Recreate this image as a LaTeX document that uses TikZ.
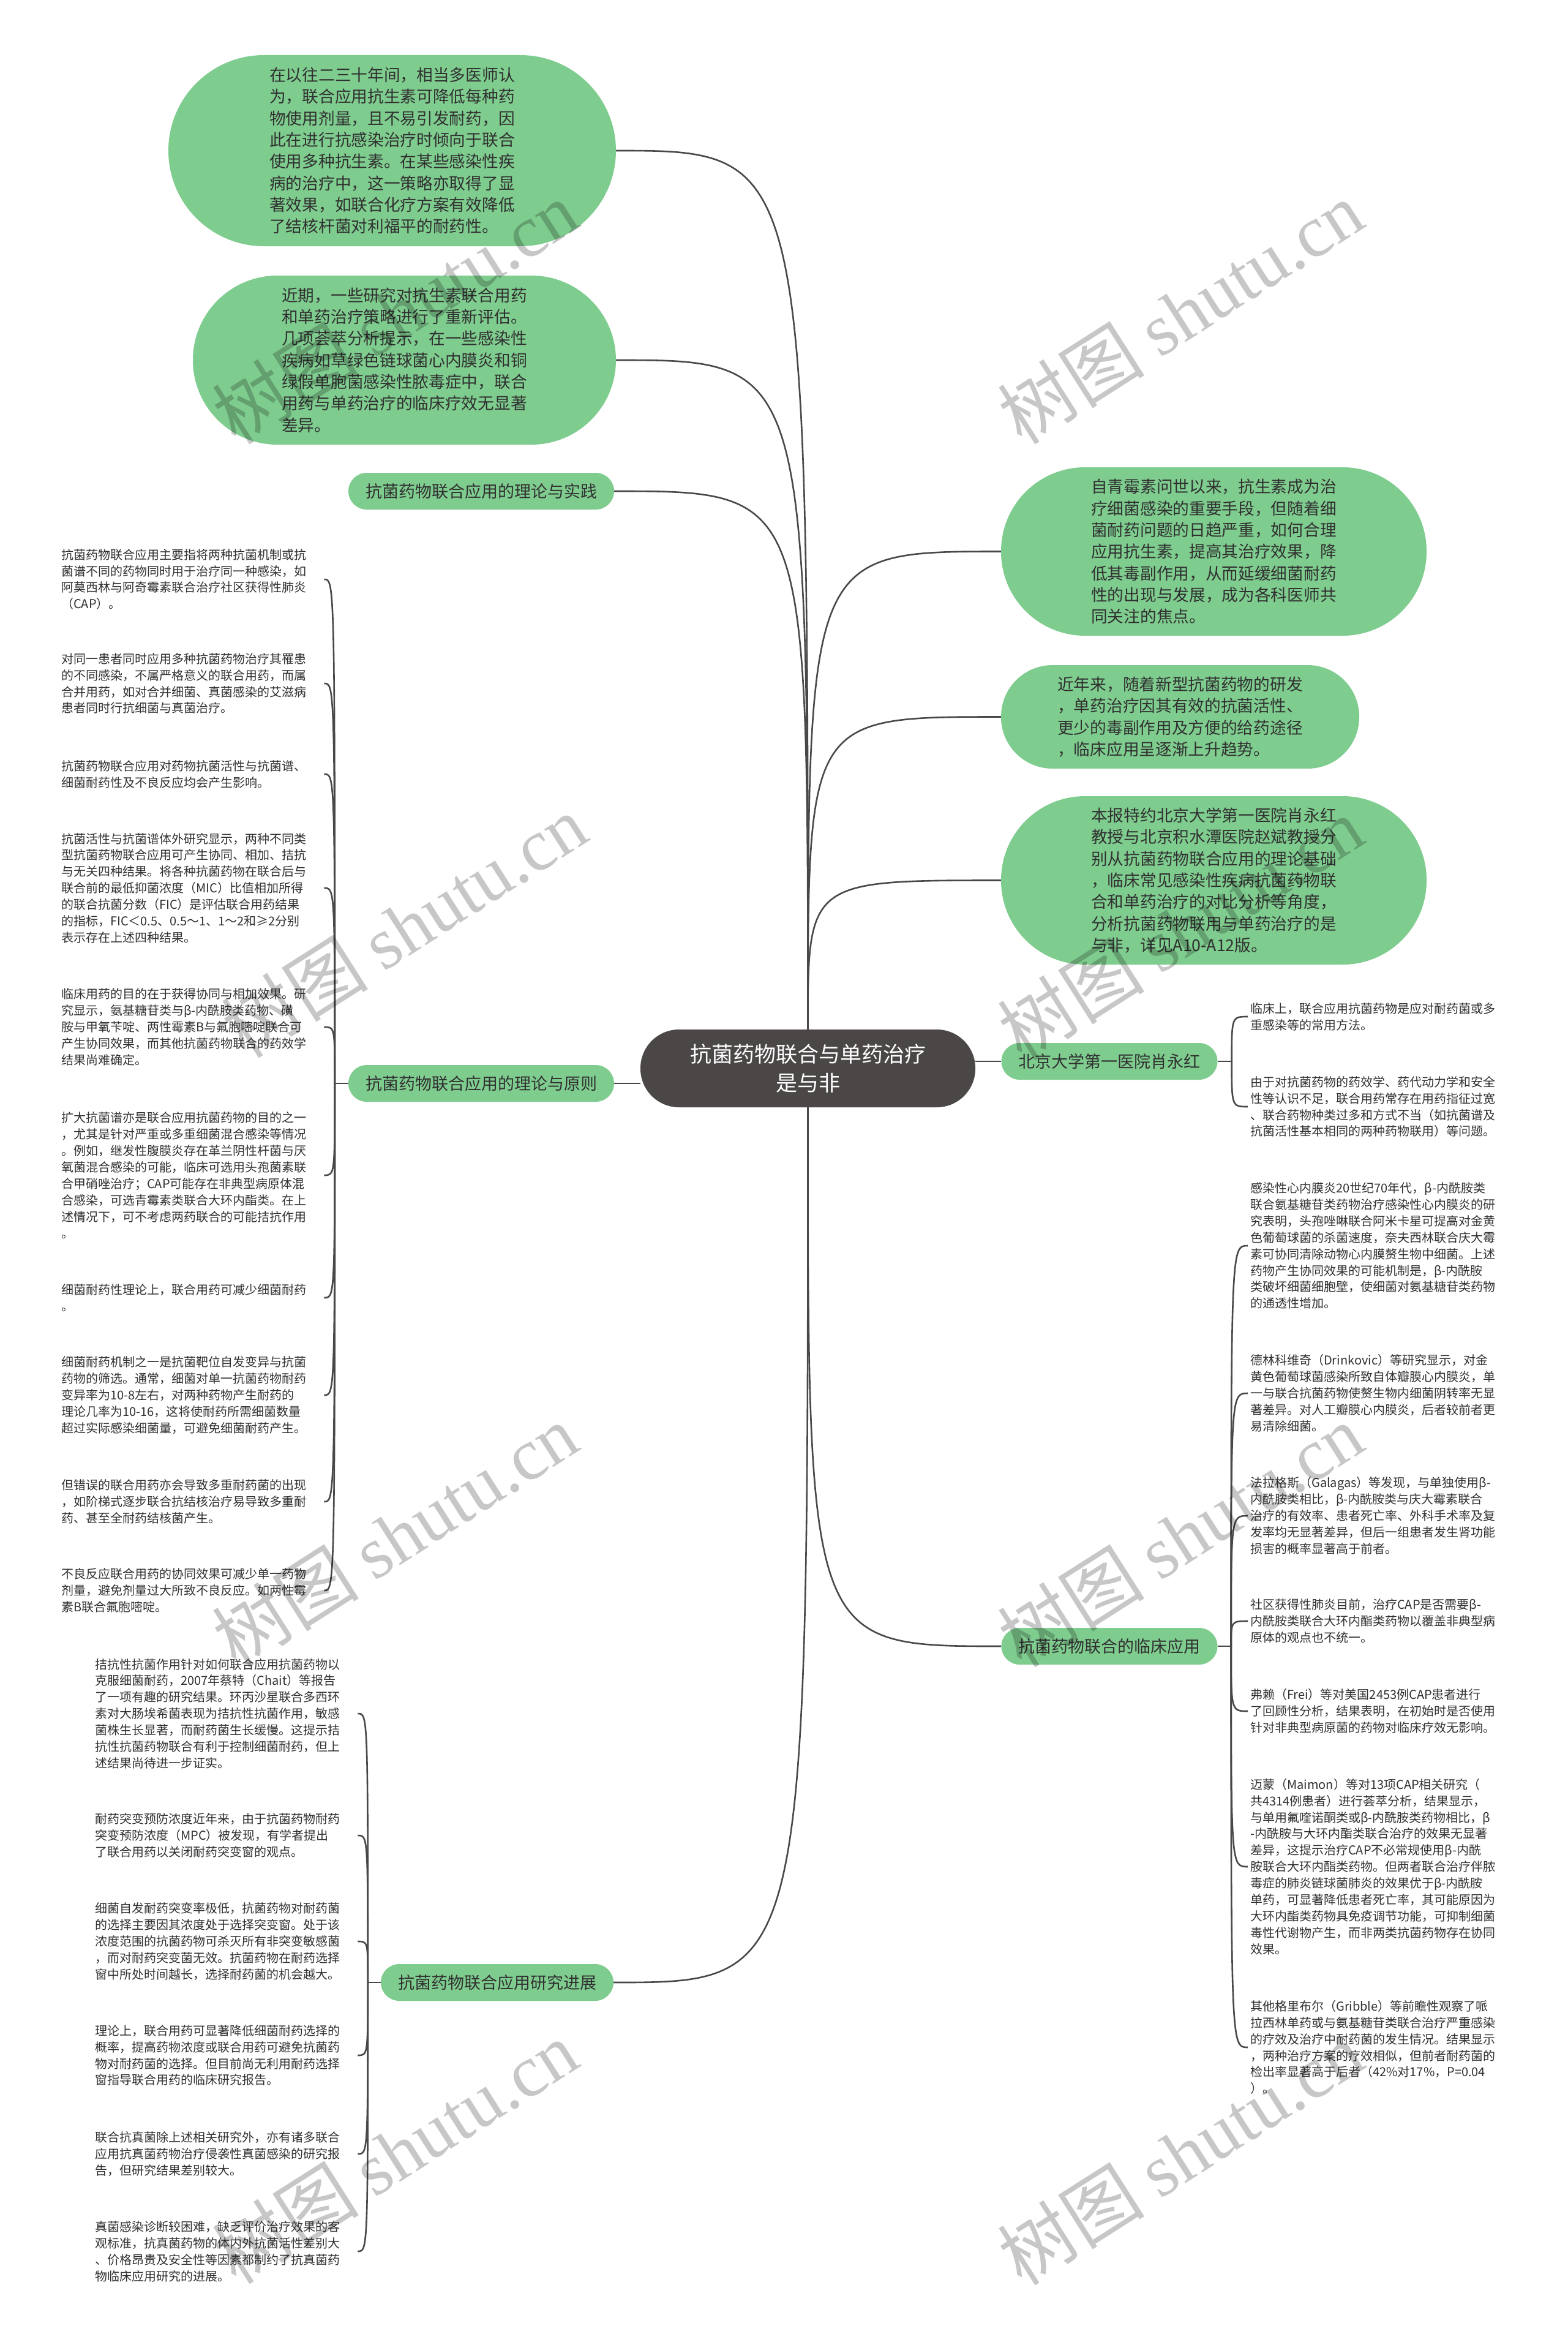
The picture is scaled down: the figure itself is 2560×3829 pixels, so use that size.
\documentclass[tikz,border=0pt]{standalone}
\usepackage{fontspec}
\setmainfont{Noto Sans CJK SC}
\newfontfamily\wmserif{Liberation Serif}
\usetikzlibrary{calc}
\pgfdeclarelayer{bg}
\pgfdeclarelayer{fg}
\pgfsetlayers{bg,main,fg}
\definecolor{nodegreen}{RGB}{127,204,143}
\definecolor{centerfill}{RGB}{76,71,71}
\definecolor{linecol}{RGB}{72,72,72}
\definecolor{txt}{RGB}{48,48,48}
\tikzset{
  bubble/.style={fill=nodegreen, text=txt, align=left, inner sep=0pt,
    font=\fontsize{26.7}{35.3}\selectfont},
  branch/.style={fill=nodegreen, text=txt, inner xsep=28pt, inner ysep=0pt,
    minimum height=60pt, rounded corners=30pt, font=\fontsize{27}{35}\selectfont},
  leaf/.style={text=txt, align=left, text width=425pt, inner xsep=4pt, inner ysep=2pt,
    font=\fontsize{20}{26.9}\selectfont},
  conn/.style={draw=linecol, line width=2.6pt},
  wm/.style={text=black, text opacity=0.22, rotate=32.5, inner sep=0pt,
    font=\fontsize{120}{130}\selectfont}
}
\begin{document}
\begin{tikzpicture}[x=1pt,y=-1pt]
\useasboundingbox (0,0) rectangle (2560,3829);
\begin{pgfonlayer}{bg}
\fill[white] (0,0) rectangle (2560,3829);
\end{pgfonlayer}

% central node
\node[fill=centerfill, text=white, align=center, minimum width=547pt, minimum height=127pt,
  rounded corners=63pt, inner sep=0pt, font=\fontsize{35}{47}\selectfont] (center) at (1319.5,1744.5)
  {抗菌药物联合与单药治疗\\是与非};

% big bubbles
\node[bubble, minimum width=731pt, minimum height=312pt, rounded corners=156pt] (b1) at (640.5,246)
 {在以往二三十年间，相当多医师认\\为，联合应用抗生素可降低每种药\\物使用剂量，且不易引发耐药，因\\此在进行抗感染治疗时倾向于联合\\使用多种抗生素。在某些感染性疾\\病的治疗中，这一策略亦取得了显\\著效果，如联合化疗方案有效降低\\了结核杆菌对利福平的耐药性。};
\node[bubble, minimum width=691pt, minimum height=276pt, rounded corners=138pt] (b2) at (660.5,588)
 {近期，一些研究对抗生素联合用药\\和单药治疗策略进行了重新评估。\\几项荟萃分析提示，在一些感染性\\疾病如草绿色链球菌心内膜炎和铜\\绿假单胞菌感染性脓毒症中，联合\\用药与单药治疗的临床疗效无显著\\差异。};
\node[bubble, minimum width=695pt, minimum height=275pt, rounded corners=137pt] (bA) at (1982.5,900.5)
 {自青霉素问世以来，抗生素成为治\\疗细菌感染的重要手段，但随着细\\菌耐药问题的日趋严重，如何合理\\应用抗生素，提高其治疗效果，降\\低其毒副作用，从而延缓细菌耐药\\性的出现与发展，成为各科医师共\\同关注的焦点。};
\node[bubble, minimum width=585pt, minimum height=169pt, rounded corners=84pt] (bB) at (1927.5,1170.5)
 {近年来，随着新型抗菌药物的研发\\，单药治疗因其有效的抗菌活性、\\更少的毒副作用及方便的给药途径\\，临床应用呈逐渐上升趋势。};
\node[bubble, minimum width=695pt, minimum height=275pt, rounded corners=137pt] (bC) at (1982.5,1437.5)
 {本报特约北京大学第一医院肖永红\\教授与北京积水潭医院赵斌教授分\\别从抗菌药物联合应用的理论基础\\，临床常见感染性疾病抗菌药物联\\合和单药治疗的对比分析等角度，\\分析抗菌药物联用与单药治疗的是\\与非，详见A10-A12版。};

% branch labels
\node[branch] (lab1) at (786,802) {抗菌药物联合应用的理论与实践};
\node[branch] (lab2) at (786,1769) {抗菌药物联合应用的理论与原则};
\node[branch] (lab3) at (1812,1733) {北京大学第一医院肖永红};
\node[branch] (lab4) at (1812,2688) {抗菌药物联合的临床应用};
\node[branch] (lab5) at (812,3237) {抗菌药物联合应用研究进展};

% left leaves (theory and principles)
\node[leaf, anchor=west] (L1) at (96,946) {抗菌药物联合应用主要指将两种抗菌机制或抗\\菌谱不同的药物同时用于治疗同一种感染，如\\阿莫西林与阿奇霉素联合治疗社区获得性肺炎\\（CAP）。};
\node[leaf, anchor=west] (L2) at (96,1116) {对同一患者同时应用多种抗菌药物治疗其罹患\\的不同感染，不属严格意义的联合用药，而属\\合并用药，如对合并细菌、真菌感染的艾滋病\\患者同时行抗细菌与真菌治疗。};
\node[leaf, anchor=west] (L3) at (96,1264) {抗菌药物联合应用对药物抗菌活性与抗菌谱、\\细菌耐药性及不良反应均会产生影响。};
\node[leaf, anchor=west] (L4) at (96,1450) {抗菌活性与抗菌谱体外研究显示，两种不同类\\型抗菌药物联合应用可产生协同、相加、拮抗\\与无关四种结果。将各种抗菌药物在联合后与\\联合前的最低抑菌浓度（MIC）比值相加所得\\的联合抗菌分数（FIC）是评估联合用药结果\\的指标，FIC＜0.5、0.5～1、1～2和≥2分别\\表示存在上述四种结果。};
\node[leaf, anchor=west] (L5) at (96,1677) {临床用药的目的在于获得协同与相加效果。研\\究显示，氨基糖苷类与β-内酰胺类药物、磺\\胺与甲氧苄啶、两性霉素B与氟胞嘧啶联合可\\产生协同效果，而其他抗菌药物联合的药效学\\结果尚难确定。};
\node[leaf, anchor=west] (L6) at (96,1919) {扩大抗菌谱亦是联合应用抗菌药物的目的之一\\，尤其是针对严重或多重细菌混合感染等情况\\。例如，继发性腹膜炎存在革兰阴性杆菌与厌\\氧菌混合感染的可能，临床可选用头孢菌素联\\合甲硝唑治疗；CAP可能存在非典型病原体混\\合感染，可选青霉素类联合大环内酯类。在上\\述情况下，可不考虑两药联合的可能拮抗作用\\。};
\node[leaf, anchor=west] (L7) at (96,2119) {细菌耐药性理论上，联合用药可减少细菌耐药\\。};
\node[leaf, anchor=west] (L8) at (96,2278) {细菌耐药机制之一是抗菌靶位自发变异与抗菌\\药物的筛选。通常，细菌对单一抗菌药物耐药\\变异率为10-8左右，对两种药物产生耐药的\\理论几率为10-16，这将使耐药所需细菌数量\\超过实际感染细菌量，可避免细菌耐药产生。};
\node[leaf, anchor=west] (L9) at (96,2452) {但错误的联合用药亦会导致多重耐药菌的出现\\，如阶梯式逐步联合抗结核治疗易导致多重耐\\药、甚至全耐药结核菌产生。};
\node[leaf, anchor=west] (L10) at (96,2597) {不良反应联合用药的协同效果可减少单一药物\\剂量，避免剂量过大所致不良反应。如两性霉\\素B联合氟胞嘧啶。};

% research progress leaves
\node[leaf, anchor=west] (R1) at (151,2798) {拮抗性抗菌作用针对如何联合应用抗菌药物以\\克服细菌耐药，2007年蔡特（Chait）等报告\\了一项有趣的研究结果。环丙沙星联合多西环\\素对大肠埃希菌表现为拮抗性抗菌作用，敏感\\菌株生长显著，而耐药菌生长缓慢。这提示拮\\抗性抗菌药物联合有利于控制细菌耐药，但上\\述结果尚待进一步证实。};
\node[leaf, anchor=west] (R2) at (151,2997) {耐药突变预防浓度近年来，由于抗菌药物耐药\\突变预防浓度（MPC）被发现，有学者提出\\了联合用药以关闭耐药突变窗的观点。};
\node[leaf, anchor=west] (R3) at (151,3170) {细菌自发耐药突变率极低，抗菌药物对耐药菌\\的选择主要因其浓度处于选择突变窗。处于该\\浓度范围的抗菌药物可杀灭所有非突变敏感菌\\，而对耐药突变菌无效。抗菌药物在耐药选择\\窗中所处时间越长，选择耐药菌的机会越大。};
\node[leaf, anchor=west] (R4) at (151,3356) {理论上，联合用药可显著降低细菌耐药选择的\\概率，提高药物浓度或联合用药可避免抗菌药\\物对耐药菌的选择。但目前尚无利用耐药选择\\窗指导联合用药的临床研究报告。};
\node[leaf, anchor=west] (R5) at (151,3517) {联合抗真菌除上述相关研究外，亦有诸多联合\\应用抗真菌药物治疗侵袭性真菌感染的研究报\\告，但研究结果差别较大。};
\node[leaf, anchor=west] (R6) at (151,3676) {真菌感染诊断较困难，缺乏评价治疗效果的客\\观标准，抗真菌药物的体内外抗菌活性差别大\\、价格昂贵及安全性等因素都制约了抗真菌药\\物临床应用研究的进展。};

% right leaves
\node[leaf, anchor=west] (P1) at (2038,1660) {临床上，联合应用抗菌药物是应对耐药菌或多\\重感染等的常用方法。};
\node[leaf, anchor=west] (P2) at (2038,1807) {由于对抗菌药物的药效学、药代动力学和安全\\性等认识不足，联合用药常存在用药指征过宽\\、联合药物种类过多和方式不当（如抗菌谱及\\抗菌活性基本相同的两种药物联用）等问题。};
\node[leaf, anchor=west] (C1) at (2038,2034) {感染性心内膜炎20世纪70年代，β-内酰胺类\\联合氨基糖苷类药物治疗感染性心内膜炎的研\\究表明，头孢唑啉联合阿米卡星可提高对金黄\\色葡萄球菌的杀菌速度，奈夫西林联合庆大霉\\素可协同清除动物心内膜赘生物中细菌。上述\\药物产生协同效果的可能机制是，β-内酰胺\\类破坏细菌细胞壁，使细菌对氨基糖苷类药物\\的通透性增加。};
\node[leaf, anchor=west] (C2) at (2038,2275) {德林科维奇（Drinkovic）等研究显示，对金\\黄色葡萄球菌感染所致自体瓣膜心内膜炎，单\\一与联合抗菌药物使赘生物内细菌阴转率无显\\著差异。对人工瓣膜心内膜炎，后者较前者更\\易清除细菌。};
\node[leaf, anchor=west] (C3) at (2038,2475) {法拉格斯（Galagas）等发现，与单独使用β-\\内酰胺类相比，β-内酰胺类与庆大霉素联合\\治疗的有效率、患者死亡率、外科手术率及复\\发率均无显著差异，但后一组患者发生肾功能\\损害的概率显著高于前者。};
\node[leaf, anchor=west] (C4) at (2038,2647) {社区获得性肺炎目前，治疗CAP是否需要β-\\内酰胺类联合大环内酯类药物以覆盖非典型病\\原体的观点也不统一。};
\node[leaf, anchor=west] (C5) at (2038,2794) {弗赖（Frei）等对美国2453例CAP患者进行\\了回顾性分析，结果表明，在初始时是否使用\\针对非典型病原菌的药物对临床疗效无影响。};
\node[leaf, anchor=west] (C6) at (2038,3048) {迈蒙（Maimon）等对13项CAP相关研究（\\共4314例患者）进行荟萃分析，结果显示，\\与单用氟喹诺酮类或β-内酰胺类药物相比，β\\-内酰胺与大环内酯类联合治疗的效果无显著\\差异，这提示治疗CAP不必常规使用β-内酰\\胺联合大环内酯类药物。但两者联合治疗伴脓\\毒症的肺炎链球菌肺炎的效果优于β-内酰胺\\单药，可显著降低患者死亡率，其可能原因为\\大环内酯类药物具免疫调节功能，可抑制细菌\\毒性代谢物产生，而非两类抗菌药物存在协同\\效果。};
\node[leaf, anchor=west] (C7) at (2038,3343) {其他格里布尔（Gribble）等前瞻性观察了哌\\拉西林单药或与氨基糖苷类联合治疗严重感染\\的疗效及治疗中耐药菌的发生情况。结果显示\\，两种治疗方案的疗效相似，但前者耐药菌的\\检出率显著高于后者（42\%对17\%，P=0.04\\）。};

% fan points
\coordinate (f2) at ($(lab2.west)+(-22,0)$);
\coordinate (f3) at ($(lab3.east)+(23,0)$);
\coordinate (f4) at ($(lab4.east)+(22,0)$);
\coordinate (f5) at ($(lab5.west)+(-21,0)$);

\begin{pgfonlayer}{bg}
% center to first level
\foreach \t in {b1,b2,lab1}
  \draw[conn] (center.north) .. controls (center.north |- \t.east) .. (\t.east);
\foreach \t in {bA,bB,bC}
  \draw[conn] (center.north) .. controls (center.north |- \t.west) .. (\t.west);
\draw[conn] (center.west |- lab2.east) -- (lab2.east);
\draw[conn] (center.east |- lab3.west) -- (lab3.west);
\draw[conn] (center.south) .. controls (center.south |- lab4.west) .. (lab4.west);
\draw[conn] (center.south) .. controls (center.south |- lab5.east) .. (lab5.east);
% fans
\draw[conn] (lab2.west) -- (f2);
\foreach \t in {L1,L2,L3,L4,L5,L6,L7,L8,L9,L10}
  \draw[conn] (f2) .. controls (f2 |- \t.east) .. (\t.east);
\draw[conn] (lab5.west) -- (f5);
\foreach \t in {R1,R2,R3,R4,R5,R6}
  \draw[conn] (f5) .. controls (f5 |- \t.east) .. (\t.east);
\draw[conn] (lab3.east) -- (f3);
\foreach \t in {P1,P2}
  \draw[conn] (f3) .. controls (f3 |- \t.west) .. (\t.west);
\draw[conn] (lab4.east) -- (f4);
\foreach \t in {C1,C2,C3,C4,C5,C6,C7}
  \draw[conn] (f4) .. controls (f4 |- \t.west) .. (\t.west);
\end{pgfonlayer}

% watermarks
\begin{pgfonlayer}{fg}
\foreach \i/\x/\y in {1/645/510, 2/1928/510, 3/660/1512, 4/1928/1516, 5/645/2507, 6/1928/2507, 7/645/3514, 8/1928/3516}
  \node[wm] (wm\i) at (\x,\y) {树图 {\wmserif shutu.cn}};
\end{pgfonlayer}
\end{tikzpicture}
\end{document}
